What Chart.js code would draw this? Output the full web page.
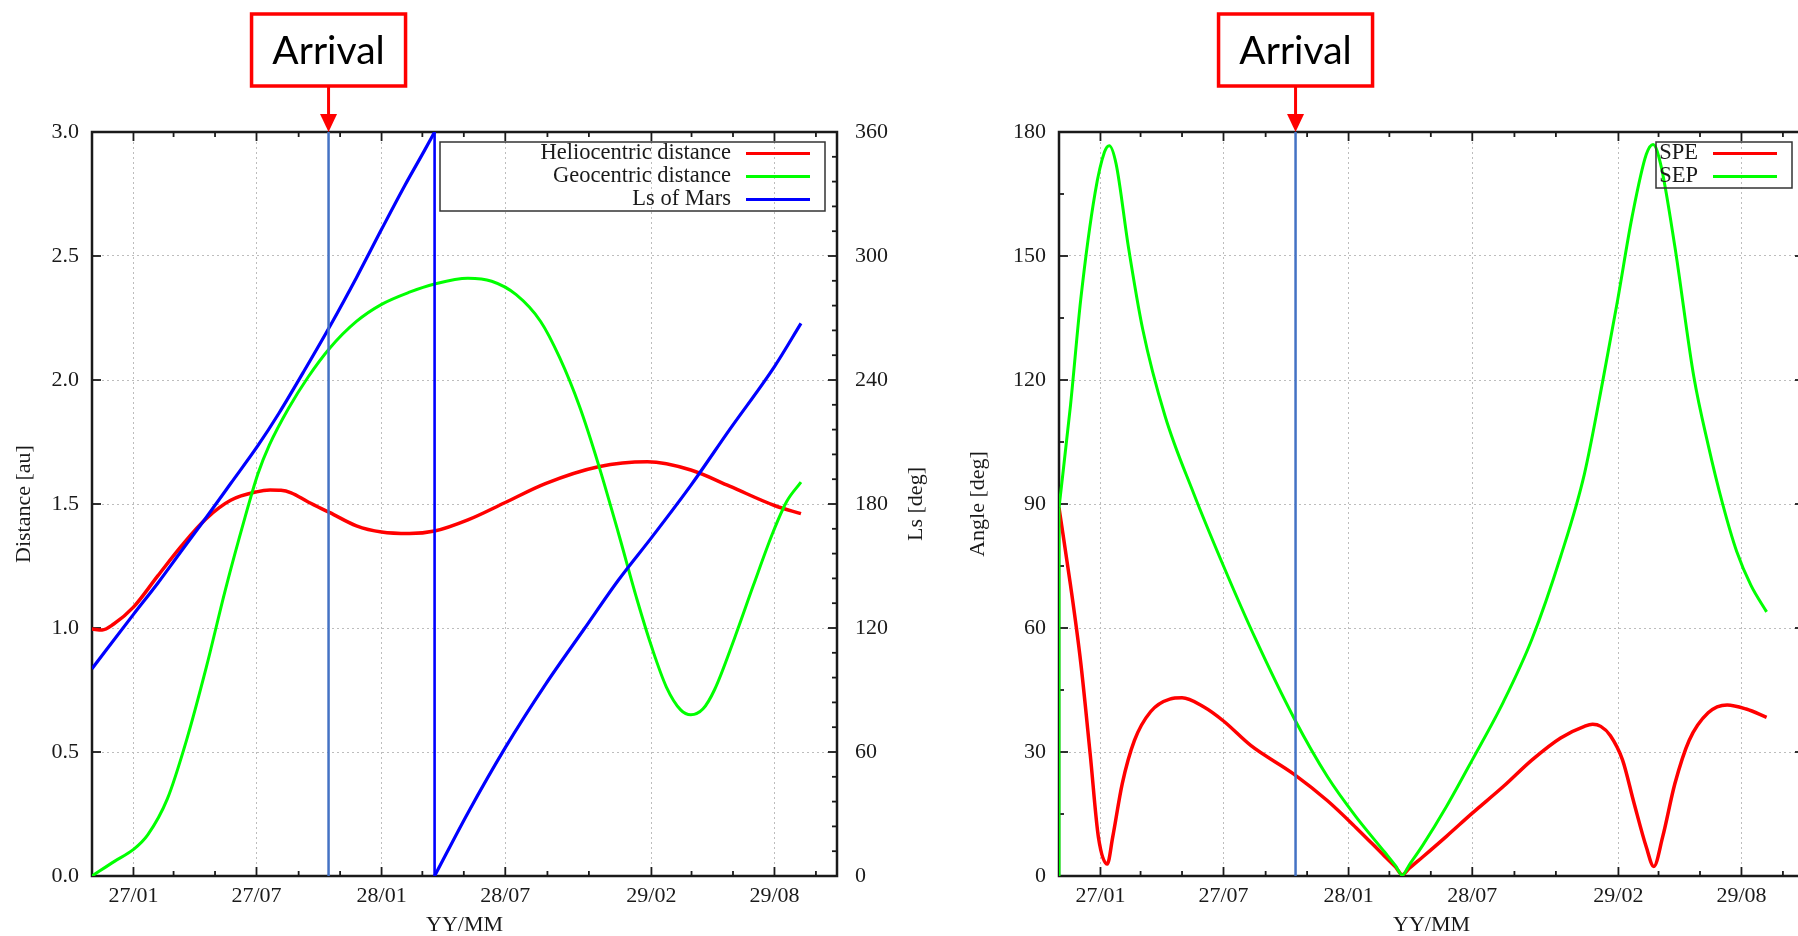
<!DOCTYPE html>
<html>
<head>
<meta charset="utf-8">
<script src="https://cdn.jsdelivr.net/npm/chart.js"></script>
<style>
	html, body { margin: 0; padding: 0; background: #fff; overflow: hidden; width: 1798px; height: 936px; }
	.panel { position: absolute; top: 0; width: 940px; height: 936px; }
	#panel-left { left: 0; }
	#panel-right { left: 967px; }
</style>
</head>
<body>
<div class="panel" id="panel-left"><canvas id="orbit-chart" width="940" height="936"></canvas></div>
<div class="panel" id="panel-right"><canvas id="angle-chart" width="940" height="936"></canvas></div>
<script>
// x values are days counted from 2026-11-01
const monthDays = [61, 242, 426, 608, 823, 1004];
const monthLabels = ["27/01", "27/07", "28/01", "28/07", "29/02", "29/08"];
const minorDays = [120, 181, 304, 365, 486, 547, 670, 731, 882, 943, 1065];
const arrivalDay = 348;

const distanceTicks = [0, 0.5, 1, 1.5, 2, 2.5, 3];
const lsTicks = [0, 60, 120, 180, 240, 300, 360];
const lsMinorTicks = [12, 24, 36, 48, 72, 84, 96, 108, 132, 144, 156, 168, 192, 204, 216, 228, 252, 264, 276, 288, 312, 324, 336, 348];
const angleTicks = [0, 30, 60, 90, 120, 150, 180];
const angleMinorTicks = [15, 45, 75, 105, 135, 165];

// left panel
const helioDays = [0, 15, 32, 61, 97, 132, 168, 204, 242, 262, 278, 293, 318, 350, 389, 426, 467, 504, 553, 608, 667, 745, 817, 881, 938, 1004, 1043];
const helioAu = [0.996, 0.992, 1.016, 1.084, 1.211, 1.332, 1.441, 1.515, 1.549, 1.556, 1.555, 1.545, 1.508, 1.465, 1.412, 1.387, 1.381, 1.391, 1.436, 1.506, 1.582, 1.65, 1.67, 1.637, 1.572, 1.494, 1.461];

const geoDays = [0, 33, 61, 82, 111, 139, 168, 196, 225, 244, 261, 289, 318, 350, 389, 426, 467, 504, 553, 588, 624, 660, 688, 717, 745, 774, 802, 824, 845, 866, 881, 899, 916, 945, 973, 1002, 1022, 1043];
const geoAu = [0, 0.059, 0.107, 0.166, 0.312, 0.547, 0.84, 1.152, 1.445, 1.621, 1.738, 1.885, 2.012, 2.129, 2.236, 2.305, 2.354, 2.387, 2.41, 2.398, 2.344, 2.236, 2.09, 1.895, 1.66, 1.387, 1.113, 0.918, 0.762, 0.67, 0.65, 0.674, 0.752, 0.957, 1.172, 1.387, 1.51, 1.588];

// Ls wraps from 360 back to 0 at day 504 (index 14 -> 15)
const lsDays = [0, 61, 97, 132, 168, 204, 244, 275, 311, 350, 389, 426, 460, 489, 504, 504, 553, 608, 667, 724, 774, 824, 881, 938, 1004, 1043];
const lsDeg = [100.3, 126.6, 141.8, 157.5, 173.5, 189.9, 208.2, 223.9, 243.8, 266, 289.5, 312.9, 334, 351, 360, 0, 30.5, 62.1, 92.6, 119.5, 143, 164.1, 189, 216, 246.5, 267.4];
const lsWrap = 15;

// right panel
const speDays = [0, 17, 32, 46, 58, 71, 79, 93, 111, 135, 163, 181, 212, 242, 282, 346, 395, 437, 479, 495, 505, 515, 535, 570, 608, 654, 696, 738, 773, 785, 797, 811, 829, 846, 864, 875, 888, 906, 927, 955, 983, 1011, 1041];
const speDeg = [89.1, 70.3, 51.6, 29.3, 9.4, 2.9, 9.4, 22.3, 32.8, 39.8, 42.8, 43.1, 41, 37.5, 31.6, 24.6, 18.2, 11.7, 4.8, 2.2, 0.3, 1.8, 4.6, 9.6, 15.2, 21.7, 28.1, 33.4, 36.2, 36.7, 36.2, 34, 28.1, 17.6, 7, 2.3, 9.4, 22.3, 32.8, 39.5, 41.4, 40.4, 38.4];

// SEP jumps from 0 to 89 deg at the first sample
const sepDays = [0, 0, 17, 32, 53, 67, 74, 84, 102, 123, 156, 198, 242, 289, 346, 395, 437, 479, 495, 505, 515, 535, 570, 608, 654, 696, 738, 773, 801, 822, 843, 864, 874, 885, 906, 934, 955, 976, 997, 1018, 1041];
const sepDeg = [0, 89.1, 114, 139.5, 165.2, 175.2, 176.7, 172.3, 152.3, 132.4, 111.3, 92.6, 75, 57.4, 38.1, 24, 14.3, 5.8, 2.5, 0.2, 2.6, 7.4, 16.8, 28.1, 42.2, 57.4, 77.3, 97.3, 120.7, 139.5, 159.4, 174.6, 177, 172.3, 152.3, 120.7, 104.3, 90.2, 78.5, 70.3, 63.9];

const SERIF = "\"Liberation Serif\", \"Times New Roman\", serif";
const INK = "#1a1a1a";
const GRID = "#bdbdbd";
const tickFont = { family: SERIF, size: 22 };
const titleFont = { family: SERIF, size: 22, lineHeight: 1 };

const toPoints = (xs, ys) => xs.map((x, i) => ({ x: x, y: ys[i] }));

function line(ctx, x1, y1, x2, y2) {
	ctx.beginPath();
	ctx.moveTo(x1, y1);
	ctx.lineTo(x2, y2);
	ctx.stroke();
}

function xAxis() {
	return {
		type: "linear",
		position: "bottom",
		min: 0,
		max: 1096,
		afterFit: (s) => { s.height = 60; },
		afterBuildTicks: (s) => { s.ticks = monthDays.map((d) => ({ value: d })); },
		ticks: { callback: (v, i) => monthLabels[i], font: tickFont, color: INK, padding: 7, maxRotation: 0, autoSkip: false },
		grid: { color: GRID, lineWidth: 1, drawTicks: false },
		border: { display: false, dash: [2, 3] },
		title: { display: true, text: "YY/MM", font: titleFont, color: INK, padding: 0 },
	};
}

// gnuplot-like frame, inward tick marks, arrival marker, key box
function decor(cfg) {
	return {
		id: "decor",
		beforeDatasetsDraw(chart) {
			const { ctx, chartArea: a, scales } = chart;
			ctx.save();
			ctx.strokeStyle = INK;
			ctx.lineWidth = 1.8;
			const xMark = (d, len) => {
				const p = scales.x.getPixelForValue(d);
				line(ctx, p, a.bottom, p, a.bottom - len);
				line(ctx, p, a.top, p, a.top + len);
			};
			monthDays.forEach((d) => xMark(d, 9));
			minorDays.forEach((d) => xMark(d, 5));
			cfg.yMarks.forEach((m) => {
				const x0 = m.side === "left" ? a.left : a.right;
				const dir = m.side === "left" ? 1 : -1;
				const yMark = (v, len) => {
					const p = scales[m.scale].getPixelForValue(v);
					line(ctx, x0, p, x0 + dir * len, p);
				};
				m.major.forEach((v) => yMark(v, 9));
				m.minor.forEach((v) => yMark(v, 5));
			});
			ctx.lineWidth = 2.5;
			ctx.strokeRect(a.left, a.top, a.right - a.left, a.bottom - a.top);
			ctx.restore();
		},
		afterDatasetsDraw(chart) {
			const { ctx, chartArea: a, scales } = chart;
			const ax = scales.x.getPixelForValue(arrivalDay);
			ctx.save();
			ctx.strokeStyle = "#4472c4";
			ctx.lineWidth = 2.5;
			line(ctx, ax, a.top, ax, a.bottom);

			const items = chart.data.datasets.filter((d) => d.label);
			const rowH = 23;
			const boxT = a.top + 10;
			const boxL = a.right - cfg.legendWidth;
			const boxR = a.right - 12;
			ctx.strokeStyle = "#333";
			ctx.lineWidth = 1.5;
			ctx.strokeRect(boxL, boxT, boxR - boxL, items.length * rowH);
			ctx.font = "22.5px " + SERIF;
			ctx.fillStyle = INK;
			ctx.textAlign = "right";
			ctx.textBaseline = "middle";
			items.forEach((d, i) => {
				const cy = boxT + 11.5 + i * rowH;
				ctx.fillText(d.label, a.right - 106, cy);
				ctx.strokeStyle = d.borderColor;
				ctx.lineWidth = 3;
				line(ctx, a.right - 91, cy, a.right - 27, cy);
			});
			ctx.restore();
		},
		afterDraw(chart) {
			const { ctx, chartArea: a, scales } = chart;
			const ax = scales.x.getPixelForValue(arrivalDay);
			ctx.save();
			ctx.strokeStyle = "#ff0000";
			ctx.fillStyle = "#ff0000";
			ctx.lineWidth = 3;
			line(ctx, ax, 86, ax, a.top - 16);
			ctx.beginPath();
			ctx.moveTo(ax - 8.5, a.top - 18);
			ctx.lineTo(ax + 8.5, a.top - 18);
			ctx.lineTo(ax, a.top);
			ctx.closePath();
			ctx.fill();
			ctx.fillStyle = "#fff";
			ctx.lineWidth = 3.5;
			ctx.fillRect(ax - 77, 14, 154, 72);
			ctx.strokeRect(ax - 77, 14, 154, 72);
			ctx.fillStyle = "#000";
			ctx.font = "39px Lato";
			ctx.textAlign = "center";
			ctx.textBaseline = "alphabetic";
			ctx.fillText("Arrival", ax, 63.5);

			if (cfg.rightTitle) {
				ctx.translate(a.right + 79, (a.top + a.bottom) / 2);
				ctx.rotate(-Math.PI / 2);
				ctx.font = "22px " + SERIF;
				ctx.fillStyle = INK;
				ctx.textBaseline = "middle";
				ctx.fillText(cfg.rightTitle, 0, 0);
			}
			ctx.restore();
		},
	};
}

const baseOptions = {
	responsive: false,
	animation: false,
	events: [],
	elements: { point: { radius: 0 }, line: { borderJoinStyle: "round" } },
	plugins: { legend: { display: false }, tooltip: { enabled: false } },
};

const blue = { borderColor: "#0000ff", borderWidth: 3.2, yAxisID: "y2", order: 1 };

new Chart(document.getElementById("orbit-chart"), {
	type: "line",
	data: {
		datasets: [
			{ label: "Heliocentric distance", data: toPoints(helioDays, helioAu), borderColor: "#ff0000", borderWidth: 3.5, yAxisID: "y", cubicInterpolationMode: "monotone", order: 3 },
			{ label: "Geocentric distance", data: toPoints(geoDays, geoAu), borderColor: "#00ff00", borderWidth: 3, yAxisID: "y", cubicInterpolationMode: "monotone", order: 2 },
			{ label: "Ls of Mars", data: toPoints(lsDays.slice(0, lsWrap), lsDeg.slice(0, lsWrap)), cubicInterpolationMode: "monotone", ...blue },
			{ data: toPoints(lsDays.slice(lsWrap - 1, lsWrap + 1), lsDeg.slice(lsWrap - 1, lsWrap + 1)), tension: 0, ...blue, borderWidth: 2.6 },
			{ data: toPoints(lsDays.slice(lsWrap), lsDeg.slice(lsWrap)), cubicInterpolationMode: "monotone", ...blue },
		],
	},
	options: {
		...baseOptions,
		layout: { padding: { top: 132, left: 0, right: 0, bottom: 0 } },
		scales: {
			x: xAxis(),
			y: {
				type: "linear",
				position: "left",
				min: 0,
				max: 3,
				afterFit: (s) => { s.width = 92; },
				ticks: { stepSize: 0.5, callback: (v) => v.toFixed(1), font: tickFont, color: INK, padding: 13 },
				grid: { color: GRID, lineWidth: 1, drawTicks: false },
				border: { display: false, dash: [2, 3] },
				title: { display: true, text: "Distance [au]", font: titleFont, color: INK, padding: 13 },
			},
			y2: {
				type: "linear",
				position: "right",
				min: 0,
				max: 360,
				afterFit: (s) => { s.width = 103; },
				ticks: { stepSize: 60, font: tickFont, color: INK, padding: 18 },
				grid: { display: false, drawTicks: false },
				border: { display: false },
			},
		},
	},
	plugins: [decor({
		legendWidth: 397,
		rightTitle: "Ls [deg]",
		yMarks: [
			{ scale: "y", side: "left", major: distanceTicks, minor: [] },
			{ scale: "y2", side: "right", major: lsTicks, minor: lsMinorTicks },
		],
	})],
});

new Chart(document.getElementById("angle-chart"), {
	type: "line",
	data: {
		datasets: [
			{ label: "SPE", data: toPoints(speDays, speDeg), borderColor: "#ff0000", borderWidth: 3.5, cubicInterpolationMode: "monotone", order: 3 },
			{ label: "SEP", data: toPoints(sepDays.slice(1), sepDeg.slice(1)), borderColor: "#00ff00", borderWidth: 3, cubicInterpolationMode: "monotone", order: 2 },
			{ data: toPoints(sepDays.slice(0, 2), sepDeg.slice(0, 2)), borderColor: "#00ff00", borderWidth: 3, tension: 0, order: 1 },
		],
	},
	options: {
		...baseOptions,
		layout: { padding: { top: 132, left: 0, right: 103, bottom: 0 } },
		scales: {
			x: xAxis(),
			y: {
				type: "linear",
				position: "left",
				min: 0,
				max: 180,
				afterFit: (s) => { s.width = 92; },
				ticks: { stepSize: 30, font: tickFont, color: INK, padding: 13 },
				grid: { color: GRID, lineWidth: 1, drawTicks: false },
				border: { display: false, dash: [2, 3] },
				title: { display: true, text: "Angle [deg]", font: titleFont, color: INK, padding: 0 },
			},
		},
	},
	plugins: [decor({
		legendWidth: 148,
		rightTitle: null,
		yMarks: [
			{ scale: "y", side: "left", major: angleTicks, minor: angleMinorTicks },
			{ scale: "y", side: "right", major: angleTicks, minor: angleMinorTicks },
		],
	})],
});
</script>
</body>
</html>
